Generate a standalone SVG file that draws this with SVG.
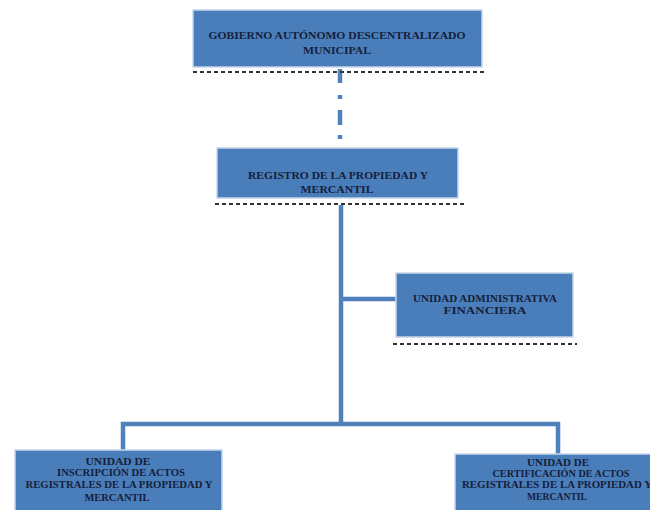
<svg xmlns="http://www.w3.org/2000/svg" width="650" height="510" viewBox="0 0 650 510">
<style>
.box{fill:#4a7ebb;stroke:#c6d6ea;stroke-width:1.5}
.dots{stroke:#333;stroke-width:2;stroke-dasharray:4 3;fill:none}
.t{font-family:"Liberation Serif",serif;font-weight:bold;font-size:10px;fill:#15203a;text-anchor:middle;dominant-baseline:central}
.c{stroke:#4f81bd;stroke-width:4.5;fill:none}
</style>
<rect width="650" height="510" fill="#ffffff"/>
<g id="connectors">
<line class="c" x1="340" y1="69" x2="340" y2="83"/>
<line class="c" x1="340" y1="95" x2="340" y2="99"/>
<line class="c" x1="340" y1="110" x2="340" y2="125"/>
<line class="c" x1="340" y1="135" x2="340" y2="139"/>
<line class="c" x1="341" y1="205" x2="341" y2="424"/>
<line class="c" x1="341" y1="299" x2="396" y2="299"/>
<polyline class="c" points="123,450 123,424 558,424 558,454"/>
</g>
<g id="n1">
<rect class="box" x="193" y="10" width="289" height="57"/>
<line class="dots" x1="193" y1="72" x2="484" y2="72"/>
<text class="t" x="337" y="35" textLength="257" lengthAdjust="spacingAndGlyphs">GOBIERNO AUTÓNOMO DESCENTRALIZADO</text>
<text class="t" x="337" y="50" textLength="68" lengthAdjust="spacingAndGlyphs">MUNICIPAL</text>
</g>
<g id="n2">
<rect class="box" x="217" y="148" width="241" height="50"/>
<line class="dots" x1="215" y1="204" x2="465" y2="204"/>
<text class="t" x="338" y="175" textLength="180" lengthAdjust="spacingAndGlyphs">REGISTRO DE LA PROPIEDAD Y</text>
<text class="t" x="337" y="189" textLength="73" lengthAdjust="spacingAndGlyphs">MERCANTIL</text>
</g>
<g id="n3">
<rect class="box" x="396" y="273" width="177" height="64"/>
<line class="dots" x1="393" y1="344" x2="577" y2="344"/>
<text class="t" x="485" y="298" textLength="144" lengthAdjust="spacingAndGlyphs">UNIDAD ADMINISTRATIVA</text>
<text class="t" x="485" y="310" textLength="83" lengthAdjust="spacingAndGlyphs">FINANCIERA</text>
</g>
<g id="n4">
<rect class="box" x="15" y="450" width="207" height="66"/>
<text class="t" x="118" y="461" textLength="65" lengthAdjust="spacingAndGlyphs">UNIDAD DE</text>
<text class="t" x="121" y="472" textLength="128" lengthAdjust="spacingAndGlyphs">INSCRIPCIÓN DE ACTOS</text>
<text class="t" x="119" y="484" textLength="187" lengthAdjust="spacingAndGlyphs">REGISTRALES DE LA PROPIEDAD Y</text>
<text class="t" x="117" y="497" textLength="65" lengthAdjust="spacingAndGlyphs">MERCANTIL</text>
</g>
<g id="n5">
<rect class="box" x="455" y="454" width="210" height="62"/>
<text class="t" x="558" y="462" textLength="62" lengthAdjust="spacingAndGlyphs">UNIDAD DE</text>
<text class="t" x="561" y="473" textLength="137" lengthAdjust="spacingAndGlyphs">CERTIFICACIÓN DE ACTOS</text>
<text class="t" x="557" y="484" textLength="190" lengthAdjust="spacingAndGlyphs">REGISTRALES DE LA PROPIEDAD Y</text>
<text class="t" x="557" y="496" textLength="60" lengthAdjust="spacingAndGlyphs">MERCANTIL</text>
</g>
</svg>
